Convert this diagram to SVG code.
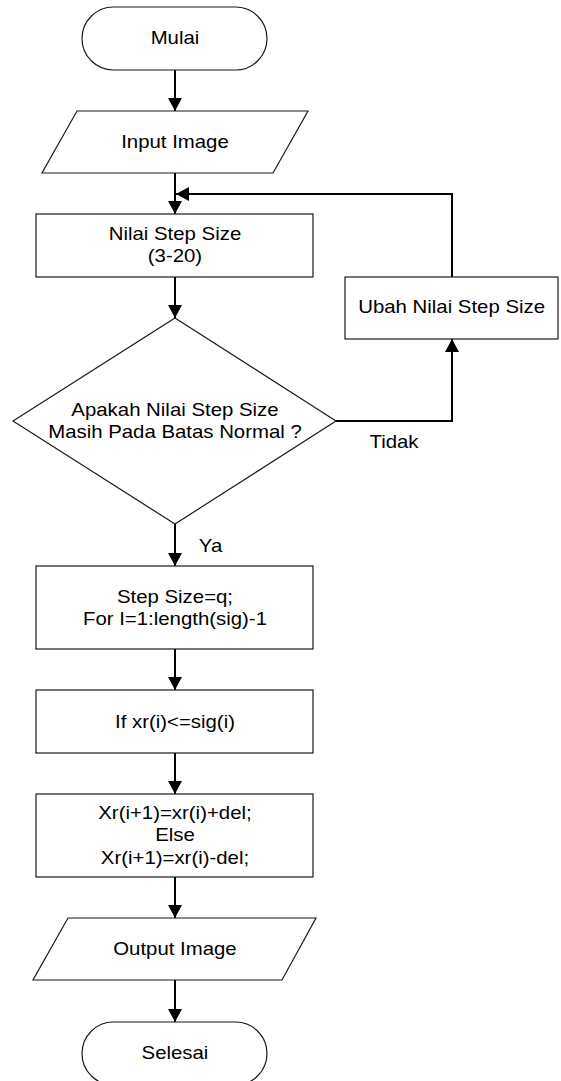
<svg xmlns="http://www.w3.org/2000/svg" width="561" height="1081" viewBox="0 0 561 1081">
  <style>
    .shape { fill: #ffffff; stroke: #1a1a1a; stroke-width: 1.2; }
    .conn { fill: none; stroke: #000000; stroke-width: 2; }
    text { font-family: "Liberation Sans", Arial, sans-serif; font-size: 17.5px; fill: #000000; text-anchor: middle; }
  </style>
  <defs>
    <marker id="arrow" markerUnits="userSpaceOnUse" markerWidth="14" markerHeight="14" refX="13" refY="7" orient="auto">
      <path d="M0,0 L13,7 L0,14 Z" fill="#000000"/>
    </marker>
  </defs>
  <rect width="561" height="1081" fill="#ffffff"/>

  <!-- connectors -->
  <g id="connectors">
    <path class="conn" d="M175,70 V111" marker-end="url(#arrow)"/>
    <path class="conn" d="M175,173 V214" marker-end="url(#arrow)"/>
    <path class="conn" d="M175,277 V318" marker-end="url(#arrow)"/>
    <path class="conn" d="M175,524 V566" marker-end="url(#arrow)"/>
    <path class="conn" d="M175,649 V690" marker-end="url(#arrow)"/>
    <path class="conn" d="M175,753 V794" marker-end="url(#arrow)"/>
    <path class="conn" d="M175,877 V918" marker-end="url(#arrow)"/>
    <path class="conn" d="M175,980 V1022" marker-end="url(#arrow)"/>
    <path class="conn" d="M336,421 H452 V339" marker-end="url(#arrow)"/>
    <path class="conn" d="M452,277 V194 H176" marker-end="url(#arrow)"/>
  </g>

  <!-- labels on branches (x scaled by 1.165) -->
  <text transform="scale(1.165 1)" x="338.2" y="448">Tidak</text>
  <text transform="scale(1.165 1)" x="180.7" y="552">Ya</text>

  <g id="mulai">
    <rect class="shape" x="82" y="7" width="185" height="63" rx="31.5" ry="31.5"/>
    <text transform="scale(1.165 1)" x="150.2" y="44">Mulai</text>
  </g>

  <g id="input-image">
    <polygon class="shape" points="77,111 308,111 273,173 42,173"/>
    <text transform="scale(1.165 1)" x="150.2" y="148">Input Image</text>
  </g>

  <g id="nilai-step-size">
    <rect class="shape" x="36" y="214" width="277" height="63"/>
    <text transform="scale(1.165 1)" x="150.2" y="240">Nilai Step Size</text>
    <text transform="scale(1.165 1)" x="150.2" y="262.5">(3-20)</text>
  </g>

  <g id="cek-batas">
    <polygon class="shape" points="175,318 336,421 175,524 13,421"/>
    <text transform="scale(1.165 1)" x="150.2" y="416.5">Apakah Nilai Step Size</text>
    <text transform="scale(1.165 1)" x="150.2" y="438.5">Masih Pada Batas Normal ?</text>
  </g>

  <g id="ubah-step-size">
    <rect class="shape" x="345" y="277" width="213" height="62"/>
    <text transform="scale(1.165 1)" x="387.7" y="313.5">Ubah Nilai Step Size</text>
  </g>

  <g id="step-size-loop">
    <rect class="shape" x="36" y="566" width="277" height="83"/>
    <text transform="scale(1.165 1)" x="150.2" y="603.5">Step Size=q;</text>
    <text transform="scale(1.165 1)" x="150.2" y="625.5">For I=1:length(sig)-1</text>
  </g>

  <g id="if-xr">
    <rect class="shape" x="36" y="690" width="277" height="63"/>
    <text transform="scale(1.165 1)" x="150.2" y="728.5">If xr(i)&lt;=sig(i)</text>
  </g>

  <g id="update-xr">
    <rect class="shape" x="36" y="794" width="277" height="83"/>
    <text transform="scale(1.165 1)" x="150.2" y="819.5">Xr(i+1)=xr(i)+del;</text>
    <text transform="scale(1.165 1)" x="150.2" y="841.5">Else</text>
    <text transform="scale(1.165 1)" x="150.2" y="864">Xr(i+1)=xr(i)-del;</text>
  </g>

  <g id="output-image">
    <polygon class="shape" points="68,918 316,918 282,980 33,980"/>
    <text transform="scale(1.165 1)" x="150.2" y="955.5">Output Image</text>
  </g>

  <g id="selesai">
    <rect class="shape" x="82" y="1022" width="185" height="63" rx="31.5" ry="31.5"/>
    <text transform="scale(1.165 1)" x="150.2" y="1059.5">Selesai</text>
  </g>
</svg>
